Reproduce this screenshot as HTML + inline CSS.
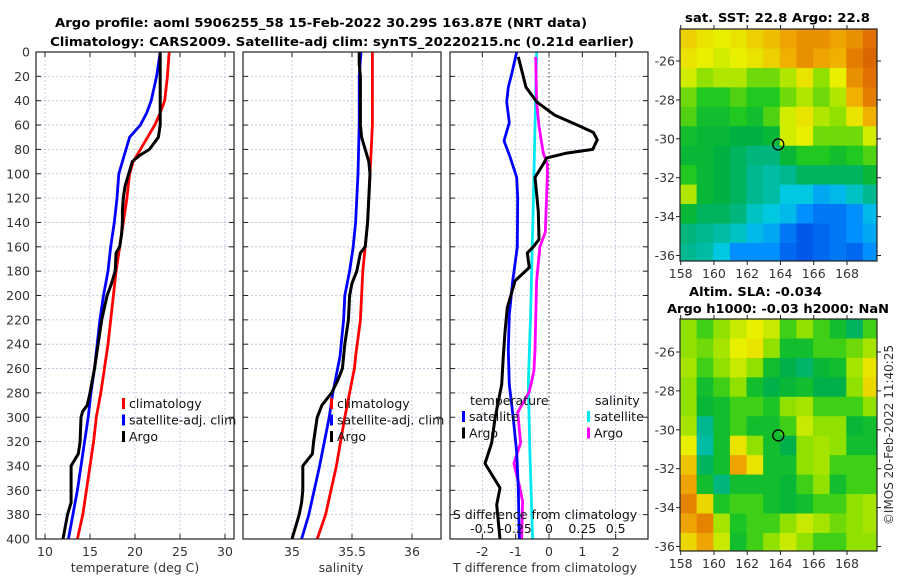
<!DOCTYPE html>
<html><head><meta charset="utf-8"><style>
body{margin:0;background:#fff;}
svg text{font-family:"DejaVu Sans","Liberation Sans",sans-serif;}
</style></head><body>
<svg id="fig" width="900" height="580" xmlns="http://www.w3.org/2000/svg">
<rect width="900" height="580" fill="#fff"/>
<text x="55" y="27" textLength="532" lengthAdjust="spacingAndGlyphs" font-size="12.5" font-weight="bold">Argo profile: aoml 5906255_58 15-Feb-2022 30.29S 163.87E (NRT data)</text>
<text x="50" y="46" textLength="584" lengthAdjust="spacingAndGlyphs" font-size="12.5" font-weight="bold">Climatology: CARS2009. Satellite-adj clim: synTS_20220215.nc (0.21d earlier)</text>
<text x="685" y="22" textLength="185" lengthAdjust="spacingAndGlyphs" font-size="12.5" font-weight="bold">sat. SST: 22.8 Argo: 22.8</text>
<text x="689" y="296" textLength="133" lengthAdjust="spacingAndGlyphs" font-size="12.5" font-weight="bold">Altim. SLA: -0.034</text>
<text x="667" y="313" textLength="222" lengthAdjust="spacingAndGlyphs" font-size="12.5" font-weight="bold">Argo h1000: -0.03 h2000: NaN</text>
<text transform="translate(893,435) rotate(-90)" text-anchor="middle" font-size="12" fill="#333">©IMOS 20-Feb-2022 11:40:25</text>
<g id="g"></g>
</svg>
<script>
// ---- profile data (depth in m) ----
const depthT = [0,20,40,50,60,70,80,90,100,120,140,160,180,200,220,240,260,280,300,320,340,360,380,400];
const tempClim = [23.8,23.6,23.3,22.8,22.2,21.4,20.6,19.8,19.4,19.1,18.7,18.3,17.9,17.6,17.3,17.0,16.6,16.2,15.7,15.4,15.0,14.6,14.2,13.6];
const tempSat = [22.8,22.4,21.8,21.3,20.6,19.4,19.0,18.6,18.2,18.0,17.7,17.3,17.0,16.5,16.1,15.8,15.5,15.1,14.8,14.4,14.0,13.6,13.1,12.6];
const depthArgo = [0,20,40,60,70,80,85,90,100,110,120,130,140,150,160,165,180,190,200,220,240,260,280,290,295,300,320,330,340,360,370,380,400];
const tempArgo = [22.8,22.8,22.8,22.8,22.6,21.6,20.5,19.7,19.3,18.9,18.7,18.6,18.6,18.5,18.3,17.9,17.8,17.4,16.9,16.3,15.9,15.5,15.0,14.7,14.2,14.0,13.9,13.7,12.9,12.9,12.9,12.5,12.0];
const depthS = [0,20,50,60,80,100,140,150,160,180,200,220,250,260,280,300,340,380,400];
const salClim = [35.67,35.67,35.67,35.67,35.66,35.65,35.63,35.62,35.61,35.59,35.58,35.57,35.53,35.52,35.48,35.44,35.37,35.28,35.21];
const salSat = [35.575,35.56,35.56,35.56,35.555,35.55,35.53,35.52,35.51,35.48,35.44,35.43,35.4,35.38,35.34,35.31,35.23,35.14,35.08];
const depthSA = [0,10,20,60,70,80,90,100,120,140,160,165,180,190,200,220,240,260,270,280,290,300,320,330,340,360,370,380,400];
const salArgo = [35.56,35.56,35.57,35.57,35.58,35.61,35.64,35.65,35.64,35.63,35.61,35.57,35.54,35.5,35.48,35.47,35.44,35.42,35.38,35.33,35.25,35.21,35.18,35.17,35.09,35.09,35.08,35.06,35.0];
// ---- difference panel ----
const depthDT = [0,18,29,41,58,73,86,103,120,160,188,216,245,273,301,329,358,400];
const dTSat = [-0.97,-1.12,-1.22,-1.27,-1.19,-1.35,-1.17,-0.97,-0.94,-0.95,-1.09,-1.19,-1.22,-1.19,-1.07,-0.97,-0.92,-0.89];
const depthDA = [4,29,41,52,61,66,72,80,83,87,92,103,117,131,154,160,165,177,188,210,230,250,273,287,301,321,338,358,372,400];
const dTArgo = [-0.92,-0.69,-0.37,0.18,0.93,1.33,1.45,1.31,0.53,-0.07,-0.17,-0.42,-0.37,-0.32,-0.3,-0.47,-0.65,-0.59,-1.02,-1.25,-1.32,-1.37,-1.42,-1.52,-1.62,-1.72,-1.92,-1.47,-1.57,-1.47];
const depthDS = [0,103,216,273,329,400];
const dSSat = [-0.093,-0.113,-0.138,-0.155,-0.143,-0.123];
const depthDSA = [4,41,61,83,92,103,148,160,188,245,262,279,296,321,338,358,369,400];
const dSArgo = [-0.1,-0.093,-0.075,-0.043,-0.013,-0.013,-0.028,-0.068,-0.093,-0.105,-0.113,-0.148,-0.235,-0.213,-0.263,-0.218,-0.198,-0.205];
// ---- map grids (normalised colour values, rows N->S from -24.4, cols 158->170) ----
const sstGrid = [
[0.75,0.72,0.7,0.72,0.75,0.78,0.82,0.85,0.85,0.82,0.85,0.9],
[0.72,0.7,0.68,0.7,0.72,0.75,0.8,0.85,0.82,0.8,0.88,0.92],
[0.68,0.62,0.65,0.65,0.6,0.6,0.65,0.72,0.62,0.7,0.85,0.9],
[0.6,0.55,0.55,0.58,0.55,0.55,0.6,0.65,0.6,0.65,0.8,0.88],
[0.58,0.52,0.52,0.55,0.52,0.58,0.68,0.72,0.65,0.62,0.72,0.8],
[0.52,0.5,0.5,0.48,0.48,0.5,0.68,0.7,0.6,0.6,0.6,0.68],
[0.5,0.5,0.48,0.45,0.42,0.42,0.5,0.55,0.55,0.52,0.55,0.58],
[0.55,0.5,0.48,0.45,0.4,0.38,0.4,0.45,0.45,0.45,0.45,0.5],
[0.65,0.5,0.48,0.45,0.4,0.38,0.32,0.32,0.28,0.3,0.35,0.4],
[0.5,0.45,0.45,0.42,0.35,0.32,0.3,0.25,0.22,0.22,0.25,0.3],
[0.42,0.4,0.38,0.35,0.3,0.28,0.22,0.18,0.2,0.22,0.25,0.28],
[0.4,0.38,0.32,0.25,0.25,0.25,0.2,0.18,0.2,0.22,0.2,0.25]];
const slaGrid = [
[0.62,0.57,0.62,0.67,0.7,0.67,0.57,0.62,0.57,0.52,0.45,0.57],
[0.62,0.6,0.64,0.7,0.72,0.62,0.52,0.52,0.57,0.57,0.6,0.64],
[0.64,0.57,0.62,0.67,0.62,0.52,0.47,0.44,0.5,0.52,0.64,0.72],
[0.62,0.52,0.57,0.62,0.52,0.47,0.5,0.52,0.47,0.47,0.62,0.74],
[0.62,0.5,0.52,0.57,0.57,0.54,0.62,0.64,0.57,0.57,0.57,0.62],
[0.64,0.4,0.52,0.57,0.52,0.52,0.57,0.67,0.62,0.62,0.5,0.52],
[0.7,0.38,0.52,0.72,0.62,0.52,0.47,0.62,0.64,0.62,0.52,0.52],
[0.77,0.45,0.52,0.82,0.72,0.52,0.52,0.62,0.64,0.57,0.57,0.57],
[0.82,0.52,0.42,0.52,0.52,0.52,0.5,0.57,0.62,0.52,0.57,0.57],
[0.87,0.74,0.54,0.57,0.57,0.52,0.5,0.52,0.57,0.57,0.62,0.64],
[0.82,0.87,0.64,0.54,0.57,0.57,0.62,0.67,0.64,0.6,0.62,0.64],
[0.74,0.82,0.67,0.52,0.57,0.62,0.67,0.62,0.57,0.57,0.62,0.62]];
const depthTicks = [0,20,40,60,80,100,120,140,160,180,200,220,240,260,280,300,320,340,360,380,400];
const tempTicks = [10,15,20,25,30];
const salTicks = [35,35.5,36];
const salTickLabels = ["35","35.5","36"];
const dTTicks = [-2,-1,0,1,2];
const dSTicks = [-0.5,-0.25,0,0.25,0.5];
const dSTickLabels = ["-0.5","-0.25","0","0.25","0.5"];
const lonTicks = [158,160,162,164,166,168];
const latTicks = [-26,-28,-30,-32,-34,-36];
const argoLon = 163.87, argoLat = -30.29;

const NS="http://www.w3.org/2000/svg";
const G=document.getElementById('g');
function mk(tag,attrs,parent,name){const e=document.createElementNS(NS,tag);for(const k in attrs)e.setAttribute(k,attrs[k]);(parent||G).appendChild(e);


return e;}
const Y0=52,Y1=539;
const yD=d=>Y0+d*(Y1-Y0)/400;
const P1={x0:36,x1:234,f:t=>36+(t-9)*9};
const P2={x0:243,x1:441,f:s=>292+(s-35)*120};
const P3={x0:450,x1:648,f:t=>549+t*33.333,fs:s=>549+s*133.33};
const gridC="#b8c0dc";
function panel(P,name){
  depthTicks.forEach(d=>{mk('line',{x1:P.x0,x2:P.x1,y1:yD(d),y2:yD(d),stroke:gridC,'stroke-width':0.8,'stroke-dasharray':'2,2'},G,name+'-hgrid');
    mk('line',{x1:P.x0,x2:P.x0+5,y1:yD(d),y2:yD(d),stroke:'#222'},G,name+'-tick');
    mk('line',{x1:P.x1-5,x2:P.x1,y1:yD(d),y2:yD(d),stroke:'#222'},G,name+'-tick');});
}
function vgrid(P,ticks,f,name){ticks.forEach(v=>{const x=f(v);
  mk('line',{x1:x,x2:x,y1:Y0,y2:Y1,stroke:gridC,'stroke-width':0.8,'stroke-dasharray':'2,2'},G,name+'-vgrid');
  mk('line',{x1:x,x2:x,y1:Y1-5,y2:Y1,stroke:'#222'},G,name+'-tick');
  mk('line',{x1:x,x2:x,y1:Y0,y2:Y0+5,stroke:'#222'},G,name+'-tick');});}
function frame(P,name){mk('rect',{x:P.x0,y:Y0,width:P.x1-P.x0,height:Y1-Y0,fill:'none',stroke:'#222','stroke-width':1.2},G,name+'-frame');}
function line(ds,vs,f,col,name,w){const pts=ds.map((d,i)=>f(vs[i]).toFixed(1)+','+yD(d).toFixed(1)).join(' ');
  mk('polyline',{points:pts,fill:'none',stroke:col,'stroke-width':w||2.8,'stroke-linejoin':'round'},G,name);}
function txt(x,y,s,name,opt){const e=mk('text',Object.assign({x:x,y:y,'font-size':12.5,fill:'#333'},opt||{}),G,name);e.textContent=s;return e;}

panel(P1,'temp-panel');vgrid(P1,tempTicks,P1.f,'temp-panel');
panel(P2,'sal-panel');vgrid(P2,salTicks,P2.f,'sal-panel');
panel(P3,'diff-panel');vgrid(P3,dTTicks,P3.f,'diff-panel');
depthTicks.forEach(d=>txt(30,yD(d)+4.5,String(d),'depth-tick-label',{'text-anchor':'end'}));
tempTicks.forEach(v=>txt(P1.f(v),556,String(v),'temp-tick-label',{'text-anchor':'middle'}));
salTicks.forEach((v,i)=>txt(P2.f(v),556,salTickLabels[i],'sal-tick-label',{'text-anchor':'middle'}));
dTTicks.forEach(v=>txt(P3.f(v),556,String(v),'dT-tick-label',{'text-anchor':'middle'}));
txt(135,572,'temperature (deg C)','temp-axis-title',{'text-anchor':'middle'});
txt(341,572,'salinity','sal-axis-title',{'text-anchor':'middle'});
txt(545,572,'T difference from climatology','dT-axis-title',{'text-anchor':'middle'});
mk('line',{x1:549,x2:549,y1:Y0,y2:Y1,stroke:'#444','stroke-width':1,'stroke-dasharray':'1.5,2.5'},G,'zero-line');

line(depthT,tempClim,P1.f,'#f00','temp-climatology-line');
line(depthT,tempSat,P1.f,'#00f','temp-satellite-line');
line(depthArgo,tempArgo,P1.f,'#000','temp-argo-line',3);
line(depthS,salClim,P2.f,'#f00','sal-climatology-line');
line(depthS,salSat,P2.f,'#00f','sal-satellite-line');
line(depthSA,salArgo,P2.f,'#000','sal-argo-line',3);
line(depthDS,dSSat,P3.fs,'#00e8f0','dS-satellite-line');
line(depthDSA,dSArgo,P3.fs,'#f0f','dS-argo-line');
line(depthDT,dTSat,P3.f,'#00f','dT-satellite-line');
line(depthDA,dTArgo,P3.f,'#000','dT-argo-line',3);
frame(P1,'temp-panel');frame(P2,'sal-panel');frame(P3,'diff-panel');

function legend(x,y,items,name){items.forEach((it,i)=>{
  mk('rect',{x:x,y:y+i*16.5-10,width:3,height:11,fill:it[1]},G,name+'-swatch');
  txt(x+7,y+i*16.5,it[0],name+'-entry',{fill:'#111'});});}
legend(122,408,[['climatology','#f00'],['satellite-adj. clim','#00f'],['Argo','#000']],'temp-legend');
legend(330,408,[['climatology','#f00'],['satellite-adj. clim','#00f'],['Argo','#000']],'sal-legend');
txt(470,405,'temperature','diff-legend-temp-header',{fill:'#111'});
txt(595,405,'salinity','diff-legend-sal-header',{fill:'#111'});
legend(462,421,[['satellite','#00f'],['Argo','#000']],'diff-legend-temp');
legend(587,421,[['satellite','#00e8f0'],['Argo','#f0f']],'diff-legend-sal');
txt(545,519,'S difference from climatology','dS-axis-title',{'text-anchor':'middle',fill:'#111'});
dSTicks.forEach((v,i)=>txt(P3.fs(v),533,dSTickLabels[i],'dS-tick-label',{'text-anchor':'middle',fill:'#111'}));

// ---- maps ----
const stops=[[0,'#000090'],[0.15,'#0040e0'],[0.25,'#0090ff'],[0.32,'#00c8e0'],[0.4,'#00b890'],[0.48,'#00b040'],[0.55,'#20c820'],[0.62,'#90e000'],[0.7,'#e8f000'],[0.8,'#f0b000'],[0.9,'#e07000'],[1,'#c04000']];
function hx(c){return [1,3,5].map(i=>parseInt(c.substr(i,2),16));}
function cmap(v){for(let i=1;i<stops.length;i++){if(v<=stops[i][0]){const a=stops[i-1],b=stops[i];const t=(v-a[0])/(b[0]-a[0]);const A=hx(a[1]),B=hx(b[1]);return 'rgb('+A.map((q,k)=>Math.round(q+(B[k]-q)*t)).join(',')+')';}}return stops[stops.length-1][1];}
function map(grid,fy0,top,bot,name,id){
  const xL=680,xR=877,lx=lon=>680.7+(lon-158)*16.63,ly=lat=>fy0+(-26-lat)*19.45;
  const cp=mk('clipPath',{id:id},G,name+'-clip');mk('rect',{x:xL,y:top,width:xR-xL,height:bot-top},cp,name+'-clip-rect');
  const g=mk('g',{'clip-path':'url(#'+id+')'},G,name+'-cells');
  const lat0=-26-(top-fy0)/19.45;
  grid.forEach((row,r)=>row.forEach((v,c)=>{const x=lx(158+c)-0.7,y=ly(lat0-r);
    mk('rect',{x:x,y:y,width:17.2,height:20,fill:cmap(v)},g,name+'-cell');}));
  mk('circle',{cx:lx(argoLon),cy:ly(argoLat),r:5.5,fill:'none',stroke:'#000','stroke-width':1.3},G,name+'-argo-marker');
  mk('rect',{x:xL,y:top,width:xR-xL,height:bot-top,fill:'none',stroke:'#222','stroke-width':1.2},G,name+'-frame');
  lonTicks.forEach(l=>{const x=lx(l);mk('line',{x1:x,x2:x,y1:bot,y2:bot+4,stroke:'#222'},G,name+'-tick');mk('line',{x1:x,x2:x,y1:top-4,y2:top,stroke:'#222'},G,name+'-tick');
    txt(x,bot+17,String(l),name+'-lon-label',{'text-anchor':'middle'});});
  latTicks.forEach(l=>{const y=ly(l);mk('line',{x1:xL-4,x2:xL,y1:y,y2:y,stroke:'#222'},G,name+'-tick');mk('line',{x1:xR,x2:xR+4,y1:y,y2:y,stroke:'#222'},G,name+'-tick');
    txt(xL-5,y+4.5,String(l),name+'-lat-label',{'text-anchor':'end'});});
}
map(sstGrid,61,29,261,'sst-map','clipA');
map(slaGrid,352,319,551,'sla-map','clipB');
</script>
</body></html>
